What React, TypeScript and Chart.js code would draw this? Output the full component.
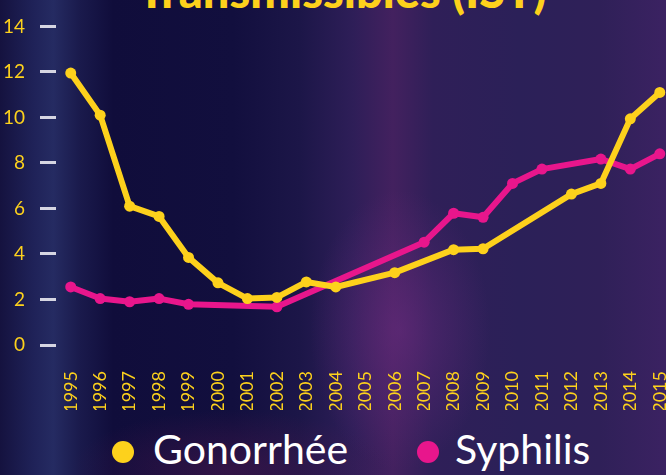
import React, { useEffect, useRef } from "react";
import { Chart, registerables } from "chart.js";

Chart.register(...registerables);

const years = [
  "1995", "1996", "1997", "1998", "1999", "2000", "2001", "2002", "2003", "2004",
  "2005", "2006", "2007", "2008", "2009", "2010", "2011", "2012", "2013", "2014", "2015",
];
const gonorrhee: (number | null)[] = [
  11.95, 10.1, 6.1, 5.65, 3.85, 2.73, 2.04, 2.09, 2.77, 2.55,
  null, 3.18, null, 4.19, 4.23, null, null, 6.63, 7.1, 9.94, 11.1,
];
const syphilis: (number | null)[] = [
  2.55, 2.04, 1.9, 2.04, 1.79, null, null, 1.68, null, null,
  null, null, 4.52, 5.79, 5.61, 7.1, 7.73, null, 8.17, 7.73, 8.4,
];
const seriesNames = ["Gonorrhée", "Syphilis"];
const titleText = "Transmissibles (IST)";

const YELLOW = "#fdd11c";
const PINK = "#e8168c";
const FONT = "Lato, 'Noto Sans', sans-serif";

export default function App() {
  const ref = useRef<HTMLCanvasElement>(null);

  useEffect(() => {
    document.body.style.margin = "0";
    const canvas = ref.current!;
    const chart = new Chart(canvas, {
      type: "line",
      data: {
        labels: years,
        datasets: [
          {
            label: seriesNames[0],
            data: gonorrhee,
            borderColor: YELLOW,
            backgroundColor: YELLOW,
            borderWidth: 6,
            pointRadius: 5.5,
            pointBorderWidth: 0,
            pointBackgroundColor: YELLOW,
            spanGaps: true,
            tension: 0,
            borderCapStyle: "round",
            borderJoinStyle: "round",
            order: 0,
          },
          {
            label: seriesNames[1],
            data: syphilis,
            borderColor: PINK,
            backgroundColor: PINK,
            borderWidth: 6,
            pointRadius: 5.5,
            pointBorderWidth: 0,
            pointBackgroundColor: PINK,
            spanGaps: true,
            tension: 0,
            borderCapStyle: "round",
            borderJoinStyle: "round",
            order: 1,
          },
        ],
      },
      options: {
        responsive: false,
        animation: false,
        layout: { padding: { top: 25, left: 0, right: 0, bottom: 0 } },
        plugins: {
          legend: { display: false },
          tooltip: { enabled: false },
        },
        scales: {
          x: {
            offset: true,
            grid: { display: false },
            border: { display: false },
            ticks: {
              color: YELLOW,
              font: { family: FONT, size: 18 },
              maxRotation: 90,
              minRotation: 90,
              padding: 18,
              autoSkip: false,
            },
            afterFit: (s: any) => {
              s.height = 65;
              s.paddingLeft = 0;
              s.paddingRight = 0;
            },
          },
          y: {
            min: 0,
            max: 14,
            ticks: {
              stepSize: 2,
              color: YELLOW,
              font: { family: FONT, size: 19 },
              padding: 15,
            },
            grid: {
              drawOnChartArea: false,
              drawTicks: true,
              tickLength: 16,
              color: "#d6d6e2",
              lineWidth: 3,
            },
            border: { display: false },
            afterFit: (s: any) => {
              s.width = 56;
            },
          },
        },
      },
    });
    return () => chart.destroy();
  }, []);

  const bg =
    "radial-gradient(ellipse 90px 140px at 400px 330px, rgba(110,45,130,0.55), rgba(110,45,130,0) 100%)," +
    "radial-gradient(ellipse 160px 60px at 230px 470px, rgba(90,25,80,0.45), rgba(90,25,80,0) 100%)," +
    "linear-gradient(90deg, #15123f 0%, #1f2258 5%, #252b62 8%, #1a1a4c 12%, #100d3b 17%, #120f3e 35%, #1c1648 45%, #2e1e58 53%, #43215f 59%, #2f1f58 65%, #2b2058 78%, #2f2058 90%, #3b2262 100%)";

  return (
    <div
      style={{
        position: "fixed",
        left: 0,
        top: 0,
        width: 666,
        height: 475,
        overflow: "hidden",
        background: bg,
        fontFamily: FONT,
      }}
    >
      <div
        style={{
          position: "absolute",
          left: 0,
          width: 684,
          top: -33,
          textAlign: "center",
          color: YELLOW,
          fontWeight: 900,
          fontSize: 47,
          lineHeight: "46px",
          whiteSpace: "nowrap",
        }}
      >
        {titleText}
      </div>
      <canvas
        ref={ref}
        width={680}
        height={410}
        style={{ position: "absolute", left: 0, top: 0, width: 680, height: 410 }}
      />
      {[
        { name: seriesNames[0], color: YELLOW, dot: 123, text: 153 },
        { name: seriesNames[1], color: PINK, dot: 428, text: 455 },
      ].map((it) => (
        <React.Fragment key={it.name}>
          <div
            style={{
              position: "absolute",
              left: it.dot - 11,
              top: 452 - 11,
              width: 22,
              height: 22,
              borderRadius: "50%",
              background: it.color,
            }}
          />
          <div
            style={{
              position: "absolute",
              left: it.text,
              top: 427,
              color: "#ffffff",
              fontSize: 41,
              lineHeight: "44px",
              whiteSpace: "nowrap",
            }}
          >
            {it.name}
          </div>
        </React.Fragment>
      ))}
    </div>
  );
}
